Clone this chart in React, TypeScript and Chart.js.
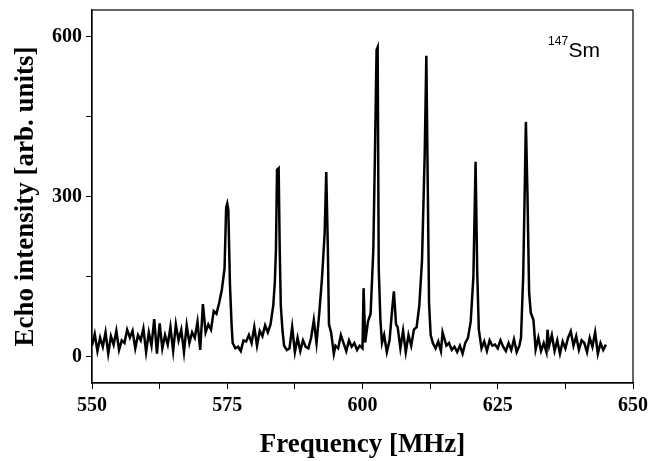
import React, { useEffect, useRef } from "react";
import { Chart, registerables } from "chart.js";

Chart.register(...registerables);

const frequencies: number[] = [
  550.0, 550.5, 551.0, 551.5, 552.0, 552.5, 553.0, 553.5, 554.0, 554.5,
  555.0, 555.5, 556.0, 556.5, 557.0, 557.5, 558.0, 558.5, 559.0, 559.5,
  560.0, 560.5, 561.0, 561.5, 562.0, 562.5, 563.0, 563.5, 564.0, 564.5,
  565.0, 565.5, 566.0, 566.5, 567.0, 567.5, 568.0, 568.5, 569.0, 569.5,
  570.0, 570.5, 571.0, 571.5, 572.0, 572.5, 573.0, 573.5, 574.0, 574.5,
  574.8, 575.0, 575.2, 575.5, 575.8, 576.0, 576.5, 577.0, 577.5, 578.0,
  578.5, 579.0, 579.5, 580.0, 580.5, 581.0, 581.5, 582.0, 582.5, 583.0,
  583.5, 583.8, 584.0, 584.2, 584.5, 584.7, 584.9, 585.2, 585.5, 586.0,
  586.5, 587.0, 587.5, 588.0, 588.5, 589.0, 589.5, 590.0, 590.5, 591.0,
  591.5, 592.0, 592.5, 593.0, 593.3, 593.6, 593.8, 594.2, 594.7, 595.0,
  595.5, 596.0, 596.5, 597.0, 597.5, 598.0, 598.5, 599.0, 599.5, 600.0,
  600.2, 600.5, 601.0, 601.5, 602.0, 602.3, 602.6, 602.8, 603.0, 603.3,
  603.6, 604.0, 604.5, 605.0, 605.5, 605.8, 606.2, 606.5, 607.0, 607.5,
  608.0, 608.5, 609.0, 609.5, 610.0, 610.5, 611.0, 611.5, 611.8, 612.0,
  612.3, 612.6, 613.0, 613.5, 614.0, 614.5, 614.8, 615.5, 616.0, 616.5,
  617.0, 617.5, 618.0, 618.5, 619.0, 619.5, 620.0, 620.5, 620.9, 621.2,
  621.5, 622.0, 622.5, 623.0, 623.5, 624.0, 624.5, 625.0, 625.5, 626.0,
  626.5, 627.0, 627.5, 628.0, 628.5, 629.0, 629.3, 629.7, 630.0, 630.2,
  630.5, 630.8, 631.1, 631.6, 632.0, 632.5, 633.0, 633.5, 634.0, 634.2,
  634.5, 635.0, 635.5, 636.0, 636.5, 637.0, 637.5, 638.0, 638.5, 639.0,
  639.5, 640.0, 640.5, 641.0, 641.5, 642.0, 642.5, 643.0, 643.5, 644.0,
  644.5, 645.0,
];

const intensities: number[] = [
  20, 42, 10, 35, 18, 45, 5, 38, 22, 48,
  12, 30, 25, 50, 35, 48, 15, 40, 30, 52,
  8, 45, 20, 70, 5, 62, 15, 40, 22, 55,
  10, 60, 30, 50, 8, 58, 25, 45, 35, 65,
  12, 98, 45, 60, 50, 85, 80, 100, 125, 165,
  280, 287, 275, 135, 60, 25, 15, 18, 10, 30,
  28, 40, 25, 55, 20, 48, 38, 58, 45, 60,
  95, 140, 200, 350, 353, 200, 95, 50, 20, 12,
  15, 55, 8, 35, 10, 30, 18, 15, 35, 68,
  25, 80, 145, 230, 346, 200, 60, 45, 5, 20,
  15, 40, 25, 10, 30, 18, 25, 12, 20, 15,
  128, 26, 65, 80, 200, 380, 575, 580, 165, 70,
  25, 40, 8, 30, 90, 122, 60, 55, 15, 48,
  8, 40, 20, 50, 55, 95, 180, 380, 564, 380,
  100, 40, 25, 15, 28, 10, 45, 20, 25, 12,
  18, 8, 20, 5, 25, 35, 65, 150, 365, 160,
  50, 15, 28, 10, 30, 20, 22, 15, 30, 18,
  10, 25, 12, 32, 8, 20, 35, 150, 320, 440,
  300, 120, 82, 68, 13, 35, 10, 25, 8, 50,
  20, 40, 10, 30, 5, 28, 15, 35, 47, 20,
  38, 12, 30, 25, 8, 35, 18, 45, 5, 25,
  12, 22,
];

const xTicks: number[] = [550, 562.5, 575, 587.5, 600, 612.5, 625, 637.5, 650];
const xLabelled: number[] = [550, 575, 600, 625, 650];
const yTicks: number[] = [0, 150, 300, 450, 600];
const yLabelled: number[] = [0, 300, 600];

const xTitle = "Frequency [MHz]";
const yTitle = "Echo intensity [arb. units]";
const isotopeMass = "147";
const isotopeSymbol = "Sm";

const SERIF = "'Liberation Serif', 'Times New Roman', serif";
const SANS = "'Liberation Sans', Arial, sans-serif";

export default function App() {
  const canvasRef = useRef<HTMLCanvasElement | null>(null);

  useEffect(() => {
    document.body.style.margin = "0";
    const canvas = canvasRef.current;
    if (!canvas) return;

    const framePlugin = {
      id: "frameAndLabel",
      afterDraw(chart: any) {
        const { ctx, chartArea } = chart;
        ctx.save();
        ctx.strokeStyle = "#000";
        ctx.lineWidth = 1.2;
        ctx.strokeRect(chartArea.left, chartArea.top, chartArea.right - chartArea.left, chartArea.bottom - chartArea.top);
        const xs = chart.scales.x;
        const ys = chart.scales.y;
        const px = xs.getPixelForValue(634.3);
        const py = ys.getPixelForValue(562);
        ctx.fillStyle = "#000";
        ctx.textBaseline = "alphabetic";
        ctx.textAlign = "left";
        ctx.font = `12px ${SANS}`;
        ctx.fillText(isotopeMass, px, py - 12);
        const w = ctx.measureText(isotopeMass).width;
        ctx.font = `21px ${SANS}`;
        ctx.fillText(isotopeSymbol, px + w + 0.5, py);
        ctx.restore();
      },
    };

    const chart = new Chart(canvas, {
      type: "line",
      data: {
        datasets: [
          {
            data: frequencies.map((f, i) => ({ x: f, y: intensities[i] })),
            borderColor: "#000",
            borderWidth: 2.5,
            pointRadius: 0,
            tension: 0,
            fill: false,
          },
        ],
      },
      options: {
        responsive: false,
        animation: false,
        layout: { padding: { top: 10, right: 15, left: 0, bottom: 0 } },
        plugins: { legend: { display: false }, tooltip: { enabled: false } },
        scales: {
          x: {
            type: "linear",
            min: 550,
            max: 650,
            afterBuildTicks: (s: any) => {
              s.ticks = xTicks.map((v) => ({ value: v }));
            },
            afterFit: (s: any) => {
              s.height = 78;
              s.paddingLeft = 0;
              s.paddingRight = 0;
            },
            grid: { drawOnChartArea: false, drawTicks: true, tickLength: 6, color: "#000", lineWidth: 1 },
            border: { display: true, color: "#000", width: 1.2 },
            ticks: {
              color: "#000",
              padding: 5,
              maxRotation: 0,
              autoSkip: false,
              font: { family: SERIF, size: 20, weight: "bold" },
              callback: (v: any) => (xLabelled.includes(Number(v)) ? String(v) : ""),
            },
            title: {
              display: true,
              text: xTitle,
              color: "#000",
              font: { family: SERIF, size: 27, weight: "bold" },
              padding: { top: 0, bottom: 0 },
            },
          },
          y: {
            type: "linear",
            min: -50,
            max: 650,
            afterBuildTicks: (s: any) => {
              s.ticks = yTicks.map((v) => ({ value: v }));
            },
            afterFit: (s: any) => {
              s.width = 92;
              s.paddingTop = 0;
              s.paddingBottom = 0;
            },
            grid: { drawOnChartArea: false, drawTicks: true, tickLength: 6, color: "#000", lineWidth: 1 },
            border: { display: true, color: "#000", width: 1.2 },
            ticks: {
              color: "#000",
              padding: 4,
              autoSkip: false,
              font: { family: SERIF, size: 20, weight: "bold" },
              callback: (v: any) => (yLabelled.includes(Number(v)) ? String(v) : ""),
            },
            title: {
              display: true,
              text: yTitle,
              color: "#000",
              font: { family: SERIF, size: 27, weight: "bold" },
              padding: { top: 10, bottom: 0 },
            },
          },
        },
      },
      plugins: [framePlugin],
    } as any);

    return () => chart.destroy();
  }, []);

  return (
    <div style={{ position: "fixed", left: 0, top: 0, width: 648, height: 461, background: "#fff" }}>
      <canvas ref={canvasRef} width={648} height={461} />
    </div>
  );
}
